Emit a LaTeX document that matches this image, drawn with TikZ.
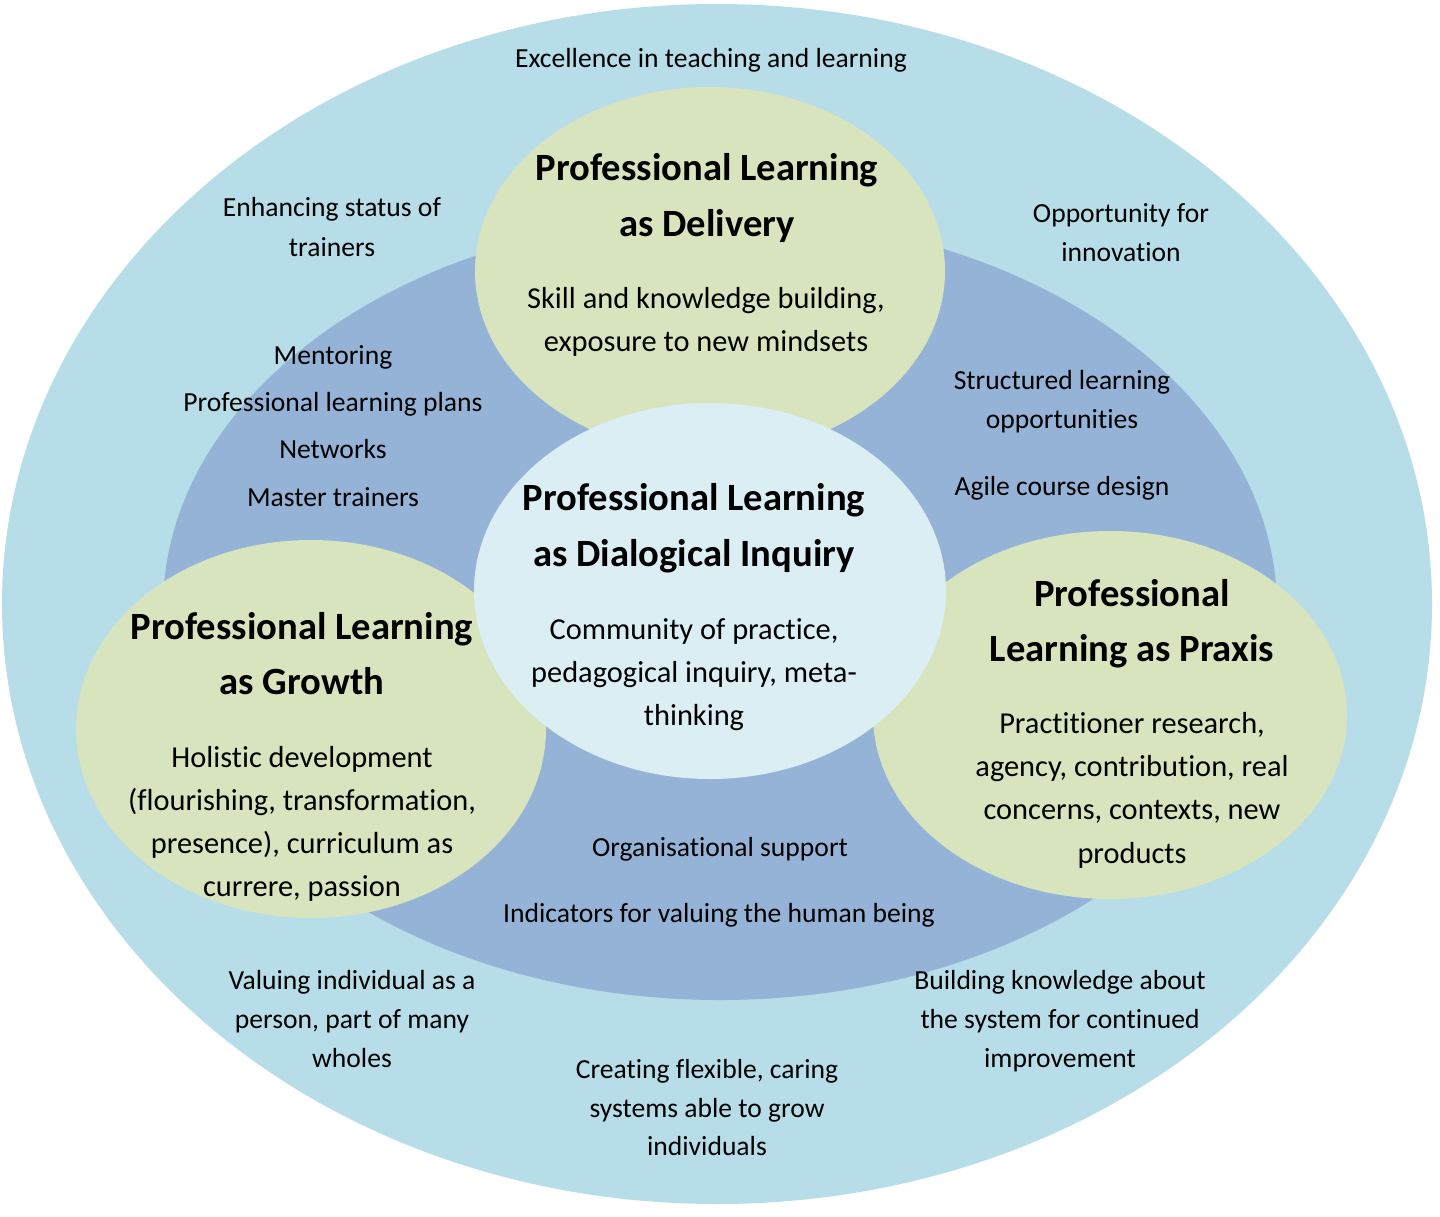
\documentclass[tikz,border=0pt]{standalone}
\usepackage{fontspec}
\setmainfont{Carlito}[Ligatures=NoCommon]
\definecolor{outerc}{HTML}{B7DDE8}
\definecolor{midc}{HTML}{95B3D7}
\definecolor{greenc}{HTML}{D7E4BD}
\definecolor{centerc}{HTML}{DBEEF4}
\tikzset{
  smalltxt/.style={font=\fontsize{13.8}{16}\selectfont, anchor=base, inner sep=0pt},
  bodytxt/.style={font=\fontsize{15.2}{18}\selectfont, anchor=base, inner sep=0pt},
  titletxt/.style={font=\bfseries\fontsize{19.3}{22}\selectfont, anchor=base, inner sep=0pt},
}
\begin{document}
\begin{tikzpicture}[x=0.5pt,y=-0.5pt]
\useasboundingbox (0,0) rectangle (1440,1216);
\fill[white] (0,0) rectangle (1440,1216);
% ellipses
\fill[outerc] (717,604) ellipse [x radius=357.5pt, y radius=300pt];
\fill[midc] (720,608) ellipse [x radius=278.5pt, y radius=196pt];
\fill[greenc] (710,271) ellipse [x radius=117.5pt, y radius=92pt];
\fill[greenc] (311,729) ellipse [x radius=117.5pt, y radius=94.5pt];
\fill[greenc] (1110,715) ellipse [x radius=118.5pt, y radius=92pt];
\fill[centerc] (710,591) ellipse [x radius=118pt, y radius=94pt];

% outer ring texts
\node[smalltxt] (exc) at (711,67) {Excellence in teaching and learning};
\node[smalltxt] (enh1) at (332,216) {Enhancing status of};
\node[smalltxt] (enh2) at (332,256) {trainers};
\node[smalltxt] (opp1) at (1121,222) {Opportunity for};
\node[smalltxt] (opp2) at (1121,261) {innovation};
\node[smalltxt] (val1) at (352,989) {Valuing individual as a};
\node[smalltxt] (val2) at (352,1028) {person, part of many};
\node[smalltxt] (val3) at (352,1067) {wholes};
\node[smalltxt] (bld1) at (1060,989) {Building knowledge about};
\node[smalltxt] (bld2) at (1060,1028) {the system for continued};
\node[smalltxt] (bld3) at (1060,1067) {improvement};
\node[smalltxt] (cre1) at (707,1078) {Creating flexible, caring};
\node[smalltxt] (cre2) at (707,1117) {systems able to grow};
\node[smalltxt] (cre3) at (707,1155) {individuals};

% middle ring texts
\node[smalltxt] (men) at (333,364) {Mentoring};
\node[smalltxt] (plp) at (333,411) {Professional learning plans};
\node[smalltxt] (net) at (333,458) {Networks};
\node[smalltxt] (mas) at (333,506) {Master trainers};
\node[smalltxt] (str1) at (1062,389) {Structured learning};
\node[smalltxt] (str2) at (1062,428) {opportunities};
\node[smalltxt] (agi) at (1062,495) {Agile course design};
\node[smalltxt] (org) at (720,856) {Organisational support};
\node[smalltxt] (ind) at (719,922) {Indicators for valuing the human being};

% delivery
\node[titletxt] (del1) at (707,180) {Professional Learning};
\node[titletxt] (del2) at (707,236) {as Delivery};
\node[bodytxt] (delb1) at (706,308) {Skill and knowledge building,};
\node[bodytxt] (delb2) at (706,351) {exposure to new mindsets};

% center
\node[titletxt] (dia1) at (694,510) {Professional Learning};
\node[titletxt] (dia2) at (694,566) {as Dialogical Inquiry};
\node[bodytxt] (diab1) at (694,639) {Community of practice,};
\node[bodytxt] (diab2) at (694,682) {pedagogical inquiry, meta-};
\node[bodytxt] (diab3) at (694,725) {thinking};

% growth
\node[titletxt] (gro1) at (302,639) {Professional Learning};
\node[titletxt] (gro2) at (302,694) {as Growth};
\node[bodytxt] (grob1) at (302,767) {Holistic development};
\node[bodytxt] (grob2) at (302,810) {(flourishing, transformation,};
\node[bodytxt] (grob3) at (302,853) {presence), curriculum as};
\node[bodytxt] (grob4) at (302,896) {currere, passion};

% praxis
\node[titletxt] (pra1) at (1132,606) {Professional};
\node[titletxt] (pra2) at (1132,661) {Learning as Praxis};
\node[bodytxt] (prab1) at (1132,733) {Practitioner research,};
\node[bodytxt] (prab2) at (1132,776) {agency, contribution, real};
\node[bodytxt] (prab3) at (1132,819) {concerns, contexts, new};
\node[bodytxt] (prab4) at (1132,863) {products};
\end{tikzpicture}
\end{document}
